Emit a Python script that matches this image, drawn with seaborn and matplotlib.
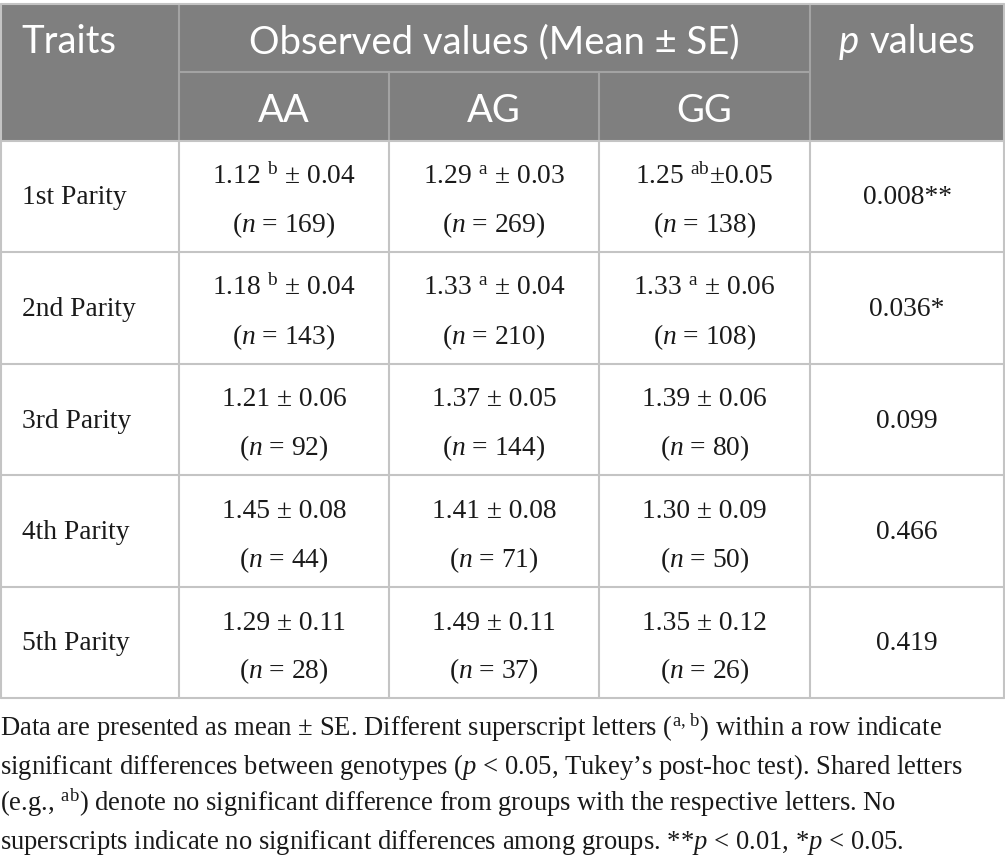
import numpy as np
import pandas as pd
import seaborn as sns
import matplotlib.pyplot as plt
from matplotlib.patches import Rectangle

traits = ['1st Parity', '2nd Parity', '3rd Parity', '4th Parity', '5th Parity']
genotypes = ['AA', 'AG', 'GG']
means = [[1.12, 1.29, 1.25], [1.18, 1.33, 1.33], [1.21, 1.37, 1.39],
         [1.45, 1.41, 1.30], [1.29, 1.49, 1.35]]
ses = [[0.04, 0.03, 0.05], [0.04, 0.04, 0.06], [0.06, 0.05, 0.06],
       [0.08, 0.08, 0.09], [0.11, 0.11, 0.12]]
letters = [['b', 'a', 'ab'], ['b', 'a', 'a'], ['', '', ''], ['', '', ''], ['', '', '']]
counts = [[169, 269, 138], [143, 210, 108], [92, 144, 80], [44, 71, 50], [28, 37, 26]]
p_values = ['0.008**', '0.036*', '0.099', '0.466', '0.419']
tight_cells = [(0, 2)]  # printed without spaces around the ±

footnote = [
    r'Data are presented as mean ± SE. Different superscript letters ($^{\mathrm{a,\,b}}$) within a row indicate',
    r'significant differences between genotypes ($p$ < 0.05, Tukey’s post-hoc test). Shared letters',
    r'(e.g., $^{\mathrm{ab}}$) denote no significant difference from groups with the respective letters. No',
    r'superscripts indicate no significant differences among groups. **$p$ < 0.01, *$p$ < 0.05.',
]

sns.set_theme(style='white')
plt.rcParams['font.family'] = ['Liberation Serif', 'DejaVu Serif']
plt.rcParams['mathtext.fontset'] = 'custom'
plt.rcParams['mathtext.rm'] = 'Liberation Serif'
plt.rcParams['mathtext.it'] = 'Liberation Serif:italic'

W, H = 1005, 865
fig = plt.figure(figsize=(W / 100, H / 100), dpi=100)
ax = fig.add_axes([0, 0, 1, 1])
ax.set_xlim(0, W)
ax.set_ylim(H, 0)
ax.axis('off')

# layout
col_x = [0.5, 179, 389, 599, 810, 1004]
top, mid, head_bot = 4, 72, 140.5
row_h = 111.5
row_y = [head_bot + i * row_h for i in range(len(traits) + 1)]

head_col = '#7f7f7f'
head_line = '#a3a3a3'
grid_col = '#c4c4c4'
lw = 1.5
hfont = dict(family='Lato', color='white', fontsize=27.5)
bfont = dict(fontsize=19.8, color='#1a1a1a')

# header block
ax.add_patch(Rectangle((col_x[0], top), col_x[-1] - col_x[0], head_bot - top,
                       facecolor=head_col, edgecolor='none'))
ax.plot([col_x[1], col_x[4]], [mid, mid], color=head_line, lw=lw)
for x in (col_x[1], col_x[4]):
    ax.plot([x, x], [top, head_bot], color=head_line, lw=lw)
for x in (col_x[2], col_x[3]):
    ax.plot([x, x], [mid, head_bot], color=head_line, lw=lw)
ax.plot([col_x[0], col_x[-1]], [top, top], color=grid_col, lw=lw)

base1, base2 = 53, 122
ax.text(21, base1, 'Traits', ha='left', va='baseline', **hfont)
ax.text((col_x[1] + col_x[4]) / 2, base1, 'Observed values (Mean ± SE)',
        ha='center', va='baseline', **hfont)
for j, g in enumerate(genotypes):
    ax.text((col_x[j + 1] + col_x[j + 2]) / 2, base2, g,
            ha='center', va='baseline', **hfont)

# "p values" with italic p
renderer = fig.canvas.get_renderer()
cx = (col_x[4] + col_x[5]) / 2
t_p = ax.text(0, base1, 'p', ha='left', va='baseline', style='italic', **hfont)
t_v = ax.text(0, base1, 'values', ha='left', va='baseline', **hfont)
wp = t_p.get_window_extent(renderer).width
wv = t_v.get_window_extent(renderer).width
gap = 10
x0 = cx - (wp + gap + wv) / 2
t_p.set_x(x0)
t_v.set_x(x0 + wp + gap)

# body
for i, tr in enumerate(traits):
    y0 = row_y[i]
    ax.text(22, y0 + 64, tr, ha='left', va='baseline', **bfont)
    for j in range(len(genotypes)):
        xc = (col_x[j + 1] + col_x[j + 2]) / 2
        sup = r' $^{\mathrm{%s}}$' % letters[i][j] if letters[i][j] else ''
        sep = '±' if (i, j) in tight_cells else ' ± '
        line1 = f'{means[i][j]:.2f}{sup}{sep}{ses[i][j]:.2f}'
        line2 = f'($n$ = {counts[i][j]})'
        ax.text(xc, y0 + 43, line1, ha='center', va='baseline', **bfont)
        ax.text(xc, y0 + 92, line2, ha='center', va='baseline', **bfont)
    ax.text(cx, y0 + 64, p_values[i], ha='center', va='baseline', **bfont)

for y in row_y:
    ax.plot([col_x[0], col_x[-1]], [y, y], color=grid_col, lw=lw)
for x in col_x:
    ax.plot([x, x], [row_y[0], row_y[-1]], color=grid_col, lw=lw)
for x in (col_x[0], col_x[-1]):
    ax.plot([x, x], [top, head_bot], color=grid_col, lw=lw)

# footnote
for k, line in enumerate(footnote):
    ax.text(0, 736 + k * 37.7, line, ha='left', va='baseline', fontsize=19.2, color='#1a1a1a')

fig.savefig('out.png', dpi=100)
